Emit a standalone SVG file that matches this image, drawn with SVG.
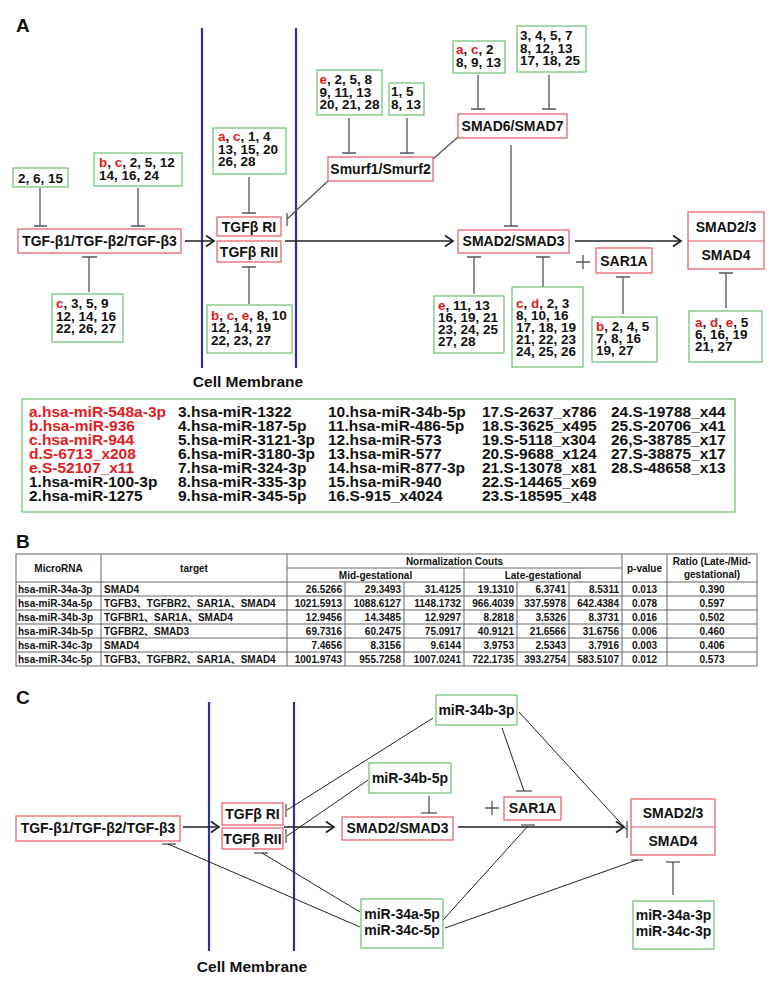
<svg xmlns="http://www.w3.org/2000/svg" width="770" height="996" viewBox="0 0 770 996">
<style>
.rb{fill:#fff;stroke:#e05a5e;stroke-width:1.2}
.gb{fill:#fff;stroke:#6cbf72;stroke-width:1.2}
.t{font-family:"Liberation Sans",Arial,"Noto Sans CJK SC",sans-serif;font-weight:bold;font-size:14px;fill:#111}
.n{font-size:13.5px}
.c{text-anchor:middle}
.e{text-anchor:end}
.r{fill:#e31b23}
.lg{font-size:15.5px}
.lbl{font-size:19px}
.inh{stroke:#555;stroke-width:1.3;fill:none}
.act{stroke:#222;stroke-width:1.5;fill:none}
.thin{stroke:#222;stroke-width:1;fill:none}
.mem{stroke:#2f2f9e;stroke-width:2.2}
.tb{font-size:10px}
.grid{stroke:#666;stroke-width:1;fill:none}
</style>
<defs>
<marker id="ar" markerWidth="12" markerHeight="14" refX="9" refY="7" orient="auto" markerUnits="userSpaceOnUse">
<path d="M1,1.5 L9,7 L1,12.5" fill="none" stroke="#222" stroke-width="1.7"/>
</marker>
</defs>
<rect width="770" height="996" fill="#fff"/>

<!-- Panel labels -->
<text class="t lbl" x="16" y="32">A</text>
<text class="t lbl" x="16" y="548">B</text>
<text class="t lbl" x="16" y="704">C</text>

<!-- ===== Panel A ===== -->
<g id="A-membrane">
<line class="mem" x1="202" y1="28" x2="202" y2="368"/>
<line class="mem" x1="296" y1="28" x2="296" y2="368"/>
<text class="t c lg" x="248" y="387">Cell Membrane</text>
</g>

<g id="A-connectors">
<line class="act" x1="185" y1="241" x2="214" y2="241" marker-end="url(#ar)"/>
<line class="act" x1="285" y1="241" x2="453" y2="241" marker-end="url(#ar)"/>
<line class="act" x1="575" y1="241" x2="681" y2="241" marker-end="url(#ar)"/>
<path class="inh" d="M40,188 V226 M34,226 H47"/>
<path class="inh" d="M138,188 V226 M131,226 H145"/>
<path class="inh" d="M89,292 V257 M82,257 H97"/>
<path class="inh" d="M249,177 V213 M242,213 H256"/>
<path class="inh" d="M249,304 V267 M242,267 H256"/>
<path class="inh" d="M349,118 V153 M342,153 H356"/>
<path class="inh" d="M407,118 V153 M400,153 H414"/>
<path class="inh" d="M328,181 L287,219 M287,213 V226"/>
<path class="inh" d="M478,75 V109 M471,109 H485"/>
<path class="inh" d="M549,75 V109 M542,109 H556"/>
<path class="inh" d="M433,159 L458,137"/>
<path class="inh" d="M511,145 V226 M504,226 H518"/>
<path class="inh" d="M474,294 V257 M467,257 H481"/>
<path class="inh" d="M543,289 V257 M536,257 H550"/>
<path class="inh" d="M623,314 V277 M616,277 H630"/>
<path class="inh" d="M726,308 V273 M719,273 H733"/>
<path class="inh" d="M576,262 H590 M583,255 V269"/>
</g>

<g id="A-TGF">
<rect class="rb" x="18" y="229" width="163" height="24"/>
<text class="t c" x="99.5" y="246">TGF-β1/TGF-β2/TGF-β3</text>
</g>
<g id="A-TGFbR">
<rect class="rb" x="217" y="217" width="64" height="19"/>
<text class="t c" x="249" y="232">TGFβ RI</text>
<rect class="rb" x="217" y="241" width="64" height="21"/>
<text class="t c" x="249" y="257">TGFβ RII</text>
</g>
<g id="A-Smurf">
<rect class="rb" x="328" y="157" width="105" height="24"/>
<text class="t c" x="380.5" y="174">Smurf1/Smurf2</text>
</g>
<g id="A-SMAD67">
<rect class="rb" x="458" y="114" width="109" height="24"/>
<text class="t c" x="512.5" y="131">SMAD6/SMAD7</text>
</g>
<g id="A-SMAD23">
<rect class="rb" x="458" y="230" width="111" height="23"/>
<text class="t c" x="513.5" y="246">SMAD2/SMAD3</text>
</g>
<g id="A-SAR1A">
<rect class="rb" x="596" y="248" width="56" height="25"/>
<text class="t c" x="624" y="266">SAR1A</text>
</g>
<g id="A-SMADcomplex">
<rect class="rb" x="688" y="212" width="76" height="57"/>
<line class="rb" x1="688" y1="241" x2="764" y2="241"/>
<text class="t c" x="726" y="232">SMAD2/3</text>
<text class="t c" x="726" y="260">SMAD4</text>
</g>

<g id="A-n1"><rect class="gb" x="13" y="168" width="55" height="19"/>
<text class="t n" x="18" y="183">2, 6, 15</text></g>
<g id="A-n2"><rect class="gb" x="94" y="153" width="88" height="33"/>
<text class="t n" x="99" y="167"><tspan class="r">b</tspan>, <tspan class="r">c</tspan>, 2, 5, 12</text>
<text class="t n" x="99" y="180">14, 16, 24</text></g>
<g id="A-n3"><rect class="gb" x="52" y="294" width="71" height="48"/>
<text class="t n" x="56" y="308"><tspan class="r">c</tspan>, 3, 5, 9</text>
<text class="t n" x="56" y="320.5">12, 14, 16</text>
<text class="t n" x="56" y="333">22, 26, 27</text></g>
<g id="A-n4"><rect class="gb" x="213" y="128" width="73" height="46"/>
<text class="t n" x="218" y="141"><tspan class="r">a</tspan>, <tspan class="r">c</tspan>, 1, 4</text>
<text class="t n" x="218" y="153.5">13, 15, 20</text>
<text class="t n" x="218" y="166">26, 28</text></g>
<g id="A-n5"><rect class="gb" x="207" y="305" width="85" height="48"/>
<text class="t n" x="211" y="319.5"><tspan class="r">b</tspan>, <tspan class="r">c</tspan>, <tspan class="r">e</tspan>, 8, 10</text>
<text class="t n" x="211" y="332">12, 14, 19</text>
<text class="t n" x="211" y="344.5">22, 23, 27</text></g>
<g id="A-n6"><rect class="gb" x="317" y="70" width="65" height="45"/>
<text class="t n" x="319.5" y="84"><tspan class="r">e</tspan>, 2, 5, 8</text>
<text class="t n" x="319.5" y="96.5">9, 11, 13</text>
<text class="t n" x="319.5" y="109">20, 21, 28</text></g>
<g id="A-n7"><rect class="gb" x="389" y="83" width="35" height="32"/>
<text class="t n" x="391" y="96">1, 5</text>
<text class="t n" x="391" y="109">8, 13</text></g>
<g id="A-n8"><rect class="gb" x="453" y="41" width="52" height="32"/>
<text class="t n" x="456" y="54"><tspan class="r">a</tspan>, <tspan class="r">c</tspan>, 2</text>
<text class="t n" x="456" y="66.5">8, 9, 13</text></g>
<g id="A-n9"><rect class="gb" x="517" y="26" width="69" height="46"/>
<text class="t n" x="520" y="40">3, 4, 5, 7</text>
<text class="t n" x="520" y="52.5">8, 12, 13</text>
<text class="t n" x="520" y="65">17, 18, 25</text></g>
<g id="A-n10"><rect class="gb" x="434" y="296" width="70" height="57"/>
<text class="t n" x="438" y="310"><tspan class="r">e</tspan>, 11, 13</text>
<text class="t n" x="438" y="322">16, 19, 21</text>
<text class="t n" x="438" y="334">23, 24, 25</text>
<text class="t n" x="438" y="346">27, 28</text></g>
<g id="A-n11"><rect class="gb" x="512" y="287" width="71" height="80"/>
<text class="t n" x="516" y="308"><tspan class="r">c</tspan>, <tspan class="r">d</tspan>, 2, 3</text>
<text class="t n" x="516" y="320">8, 10, 16</text>
<text class="t n" x="516" y="332">17, 18, 19</text>
<text class="t n" x="516" y="344">21, 22, 23</text>
<text class="t n" x="516" y="356">24, 25, 26</text></g>
<g id="A-n12"><rect class="gb" x="592" y="317" width="65" height="45"/>
<text class="t n" x="596" y="331"><tspan class="r">b</tspan>, 2, 4, 5</text>
<text class="t n" x="596" y="343">7, 8, 16</text>
<text class="t n" x="596" y="355">19, 27</text></g>
<g id="A-n13"><rect class="gb" x="689" y="311" width="73" height="51"/>
<text class="t n" x="695" y="327"><tspan class="r">a</tspan>, <tspan class="r">d</tspan>, <tspan class="r">e</tspan>, 5</text>
<text class="t n" x="695" y="339">6, 16, 19</text>
<text class="t n" x="695" y="351">21, 27</text></g>

<!-- Legend -->
<g id="A-legend">
<rect class="gb" x="22" y="399" width="713" height="113"/>
<g class="t lg">
<text class="t lg r" x="29" y="417">a.hsa-miR-548a-3p</text>
<text class="t lg r" x="29" y="431">b.hsa-miR-936</text>
<text class="t lg r" x="29" y="445">c.hsa-miR-944</text>
<text class="t lg r" x="29" y="459">d.S-6713_x208</text>
<text class="t lg r" x="29" y="473">e.S-52107_x11</text>
<text class="t lg" x="29" y="487">1.hsa-miR-100-3p</text>
<text class="t lg" x="29" y="501">2.hsa-miR-1275</text>
<text class="t lg" x="178" y="417">3.hsa-miR-1322</text>
<text class="t lg" x="178" y="431">4.hsa-miR-187-5p</text>
<text class="t lg" x="178" y="445">5.hsa-miR-3121-3p</text>
<text class="t lg" x="178" y="459">6.hsa-miR-3180-3p</text>
<text class="t lg" x="178" y="473">7.hsa-miR-324-3p</text>
<text class="t lg" x="178" y="487">8.hsa-miR-335-3p</text>
<text class="t lg" x="178" y="501">9.hsa-miR-345-5p</text>
<text class="t lg" x="328" y="417">10.hsa-miR-34b-5p</text>
<text class="t lg" x="328" y="431">11.hsa-miR-486-5p</text>
<text class="t lg" x="328" y="445">12.hsa-miR-573</text>
<text class="t lg" x="328" y="459">13.hsa-miR-577</text>
<text class="t lg" x="328" y="473">14.hsa-miR-877-3p</text>
<text class="t lg" x="328" y="487">15.hsa-miR-940</text>
<text class="t lg" x="328" y="501">16.S-915_x4024</text>
<text class="t lg" x="482" y="417">17.S-2637_x786</text>
<text class="t lg" x="482" y="431">18.S-3625_x495</text>
<text class="t lg" x="482" y="445">19.S-5118_x304</text>
<text class="t lg" x="482" y="459">20.S-9688_x124</text>
<text class="t lg" x="482" y="473">21.S-13078_x81</text>
<text class="t lg" x="482" y="487">22.S-14465_x69</text>
<text class="t lg" x="482" y="501">23.S-18595_x48</text>
<text class="t lg" x="611" y="417">24.S-19788_x44</text>
<text class="t lg" x="611" y="431">25.S-20706_x41</text>
<text class="t lg" x="611" y="445">26,S-38785_x17</text>
<text class="t lg" x="611" y="459">27.S-38875_x17</text>
<text class="t lg" x="611" y="473">28.S-48658_x13</text>
</g>
</g>

<!-- ===== Panel B table ===== -->
<g id="B-table">
<rect class="grid" x="16" y="554" width="741" height="112" stroke-width="1.4"/>
<path class="grid" d="M287,568 H622 M16,582 H757 M16,596 H757 M16,610 H757 M16,624 H757 M16,638 H757 M16,652 H757"/>
<path class="grid" d="M101,554 V666 M287,554 V666 M622,554 V666 M667,554 V666 M464,568 V666 M345,582 V666 M404,582 V666 M517,582 V666 M569,582 V666"/>
<g class="t tb">
<text class="t tb c" x="58.5" y="572">MicroRNA</text>
<text class="t tb c" x="194" y="572">target</text>
<text class="t tb c" x="454.5" y="565">Normalization Couts</text>
<text class="t tb c" x="375.5" y="579">Mid-gestational</text>
<text class="t tb c" x="543" y="579">Late-gestational</text>
<text class="t tb c" x="644.5" y="572">p-value</text>
<text class="t tb c" x="712" y="565">Ratio (Late-/Mid-</text>
<text class="t tb c" x="712" y="578">gestational)</text>

<text class="t tb" x="18" y="593">hsa-miR-34a-3p</text>
<text class="t tb" x="18" y="607">hsa-miR-34a-5p</text>
<text class="t tb" x="18" y="621">hsa-miR-34b-3p</text>
<text class="t tb" x="18" y="635">hsa-miR-34b-5p</text>
<text class="t tb" x="18" y="649">hsa-miR-34c-3p</text>
<text class="t tb" x="18" y="663">hsa-miR-34c-5p</text>

<text class="t tb" x="104" y="593">SMAD4</text>
<text class="t tb" x="104" y="607">TGFB3、TGFBR2、SAR1A、SMAD4</text>
<text class="t tb" x="104" y="621">TGFBR1、SAR1A、SMAD4</text>
<text class="t tb" x="104" y="635">TGFBR2、SMAD3</text>
<text class="t tb" x="104" y="649">SMAD4</text>
<text class="t tb" x="104" y="663">TGFB3、TGFBR2、SAR1A、SMAD4</text>

<text class="t tb e" x="342" y="593">26.5266</text>
<text class="t tb e" x="342" y="607">1021.5913</text>
<text class="t tb e" x="342" y="621">12.9456</text>
<text class="t tb e" x="342" y="635">69.7316</text>
<text class="t tb e" x="342" y="649">7.4656</text>
<text class="t tb e" x="342" y="663">1001.9743</text>

<text class="t tb e" x="401" y="593">29.3493</text>
<text class="t tb e" x="401" y="607">1088.6127</text>
<text class="t tb e" x="401" y="621">14.3485</text>
<text class="t tb e" x="401" y="635">60.2475</text>
<text class="t tb e" x="401" y="649">8.3156</text>
<text class="t tb e" x="401" y="663">955.7258</text>

<text class="t tb e" x="461" y="593">31.4125</text>
<text class="t tb e" x="461" y="607">1148.1732</text>
<text class="t tb e" x="461" y="621">12.9297</text>
<text class="t tb e" x="461" y="635">75.0917</text>
<text class="t tb e" x="461" y="649">9.6144</text>
<text class="t tb e" x="461" y="663">1007.0241</text>

<text class="t tb e" x="514" y="593">19.1310</text>
<text class="t tb e" x="514" y="607">966.4039</text>
<text class="t tb e" x="514" y="621">8.2818</text>
<text class="t tb e" x="514" y="635">40.9121</text>
<text class="t tb e" x="514" y="649">3.9753</text>
<text class="t tb e" x="514" y="663">722.1735</text>

<text class="t tb e" x="566" y="593">6.3741</text>
<text class="t tb e" x="566" y="607">337.5978</text>
<text class="t tb e" x="566" y="621">3.5326</text>
<text class="t tb e" x="566" y="635">21.6566</text>
<text class="t tb e" x="566" y="649">2.5343</text>
<text class="t tb e" x="566" y="663">393.2754</text>

<text class="t tb e" x="619" y="593">8.5311</text>
<text class="t tb e" x="619" y="607">642.4384</text>
<text class="t tb e" x="619" y="621">8.3731</text>
<text class="t tb e" x="619" y="635">31.6756</text>
<text class="t tb e" x="619" y="649">3.7916</text>
<text class="t tb e" x="619" y="663">583.5107</text>

<text class="t tb c" x="644.5" y="593">0.013</text>
<text class="t tb c" x="644.5" y="607">0.078</text>
<text class="t tb c" x="644.5" y="621">0.016</text>
<text class="t tb c" x="644.5" y="635">0.006</text>
<text class="t tb c" x="644.5" y="649">0.003</text>
<text class="t tb c" x="644.5" y="663">0.012</text>

<text class="t tb c" x="712" y="593">0.390</text>
<text class="t tb c" x="712" y="607">0.597</text>
<text class="t tb c" x="712" y="621">0.502</text>
<text class="t tb c" x="712" y="635">0.460</text>
<text class="t tb c" x="712" y="649">0.406</text>
<text class="t tb c" x="712" y="663">0.573</text>
</g>
</g>

<!-- ===== Panel C ===== -->
<g id="C-membrane">
<line class="mem" x1="209" y1="702" x2="209" y2="951"/>
<line class="mem" x1="294" y1="702" x2="294" y2="951"/>
<text class="t c lg" x="252" y="972">Cell Membrane</text>
</g>

<g id="C-connectors">
<line class="act" x1="183" y1="827" x2="219" y2="827" marker-end="url(#ar)"/>
<line class="act" x1="284" y1="827" x2="334" y2="827" marker-end="url(#ar)"/>
<line class="act" x1="458" y1="827" x2="624" y2="827" marker-end="url(#ar)"/>
<path class="thin" d="M433,718 L287,810 M286,804 V817"/>
<path class="thin" d="M368,780 L287,836 M286,829 V843"/>
<path class="thin" d="M429,796 V813 M421,813 H437"/>
<path class="thin" d="M502,728 L524,791 M516,791 H532"/>
<path class="thin" d="M519,712 L627,830 M627,821 V838"/>
<path class="thin" d="M443,920 L528,826 M521,825 H535"/>
<path class="thin" d="M445,928 L637,860 M631,860 H643"/>
<path class="thin" d="M673,895 V862 M666,862 H680"/>
<path class="thin" d="M360,912 L262,853 M254,853 H268"/>
<path class="thin" d="M360,927 L168,844 M162,844 H176"/>
<path class="inh" d="M485,808 H499 M492,801 V815"/>
</g>

<g id="C-TGF">
<rect class="rb" x="16" y="816" width="164" height="25"/>
<text class="t c" x="98" y="833">TGF-β1/TGF-β2/TGF-β3</text>
</g>
<g id="C-TGFbR">
<rect class="rb" x="222" y="803" width="61" height="22"/>
<text class="t c" x="252.5" y="819">TGFβ RI</text>
<rect class="rb" x="222" y="828" width="61" height="21"/>
<text class="t c" x="252.5" y="844">TGFβ RII</text>
</g>
<g id="C-SMAD23">
<rect class="rb" x="342" y="817" width="111" height="23"/>
<text class="t c" x="397.5" y="833">SMAD2/SMAD3</text>
</g>
<g id="C-SAR1A">
<rect class="rb" x="504" y="797" width="57" height="23"/>
<text class="t c" x="532.5" y="813">SAR1A</text>
</g>
<g id="C-SMADcomplex">
<rect class="rb" x="631" y="799" width="84" height="56"/>
<line class="rb" x1="631" y1="827" x2="715" y2="827"/>
<text class="t c" x="673" y="818">SMAD2/3</text>
<text class="t c" x="673" y="846">SMAD4</text>
</g>
<g id="C-miR34b3p">
<rect class="gb" x="436" y="695" width="81" height="30"/>
<text class="t c" x="476.5" y="715">miR-34b-3p</text>
</g>
<g id="C-miR34b5p">
<rect class="gb" x="369" y="763" width="82" height="30"/>
<text class="t c" x="410" y="783">miR-34b-5p</text>
</g>
<g id="C-miR34a5p">
<rect class="gb" x="361" y="899" width="82" height="49"/>
<text class="t c" x="402" y="919">miR-34a-5p</text>
<text class="t c" x="402" y="935">miR-34c-5p</text>
</g>
<g id="C-miR34a3p">
<rect class="gb" x="633" y="901" width="81" height="48"/>
<text class="t c" x="673.5" y="920">miR-34a-3p</text>
<text class="t c" x="673.5" y="936">miR-34c-3p</text>
</g>
</svg>
